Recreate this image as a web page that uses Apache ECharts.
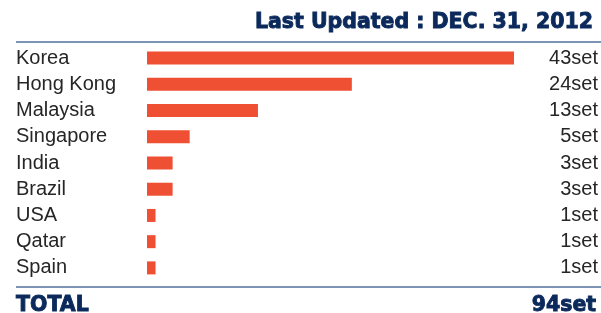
<!DOCTYPE html>
<html>
<head>
<meta charset="utf-8">
<script src="https://cdn.jsdelivr.net/npm/echarts@6/dist/echarts.min.js"></script>
<style>
  html, body { margin: 0; padding: 0; background: #fff; }
  #chart { width: 601px; height: 313px; }
</style>
</head>
<body>
<div id="chart"></div>
<script>
/* ----------  data  ---------- */
const countries = ['Korea', 'Hong Kong', 'Malaysia', 'Singapore', 'India', 'Brazil', 'USA', 'Qatar', 'Spain'];
const sets = [43, 24, 13, 5, 3, 3, 1, 1, 1];
const unit = 'set';
const updatedText = 'Last Updated : DEC. 31, 2012';
const totalLabel = 'TOTAL';

/* ----------  styles  ---------- */
const navy = '#0b2a5b';
const barColor = '#ef4f32';
const ruleColor = '#7d93b3';
const textColor = '#262626';
const font = "'Liberation Sans', Arial, sans-serif";
const heavy = {
  color: navy,
  fontSize: 20.5,
  fontWeight: 'bold',
  fontFamily: "'DejaVu Sans', sans-serif",
  textBorderColor: navy,
  textBorderWidth: 0.9,
};

const total = sets.reduce((a, b) => a + b, 0);

const chart = echarts.init(document.getElementById('chart'));

chart.setOption({
  animation: false,
  title: [
    { text: updatedText, right: 7, top: 12, padding: 0, textStyle: heavy },
    { text: totalLabel, left: 16, top: 295, padding: 0, textStyle: heavy },
    { text: total + unit, right: 4, top: 295, padding: 0, textStyle: heavy },
  ],
  graphic: [
    { type: 'rect', shape: { x: 16, y: 41, width: 585, height: 2 }, style: { fill: ruleColor } },
    { type: 'rect', shape: { x: 16, y: 286, width: 585, height: 2 }, style: { fill: ruleColor } },
  ],
  grid: { left: 147, right: 86, top: 45, height: 236 },
  xAxis: { type: 'value', min: 0, max: 43, show: false },
  yAxis: [
    {
      type: 'category',
      data: countries,
      inverse: true,
      axisLine: { show: false },
      axisTick: { show: false },
      axisLabel: { align: 'left', margin: 131, color: textColor, fontSize: 20, fontFamily: font },
    },
    {
      type: 'category',
      data: sets.map((v) => v + unit),
      inverse: true,
      position: 'right',
      axisLine: { show: false },
      axisTick: { show: false },
      axisLabel: { align: 'right', margin: 84, color: textColor, fontSize: 20, fontFamily: font },
    },
  ],
  series: [
    {
      type: 'bar',
      data: sets,
      barWidth: 13,
      itemStyle: { color: barColor },
      silent: true,
    },
  ],
});
</script>
</body>
</html>
